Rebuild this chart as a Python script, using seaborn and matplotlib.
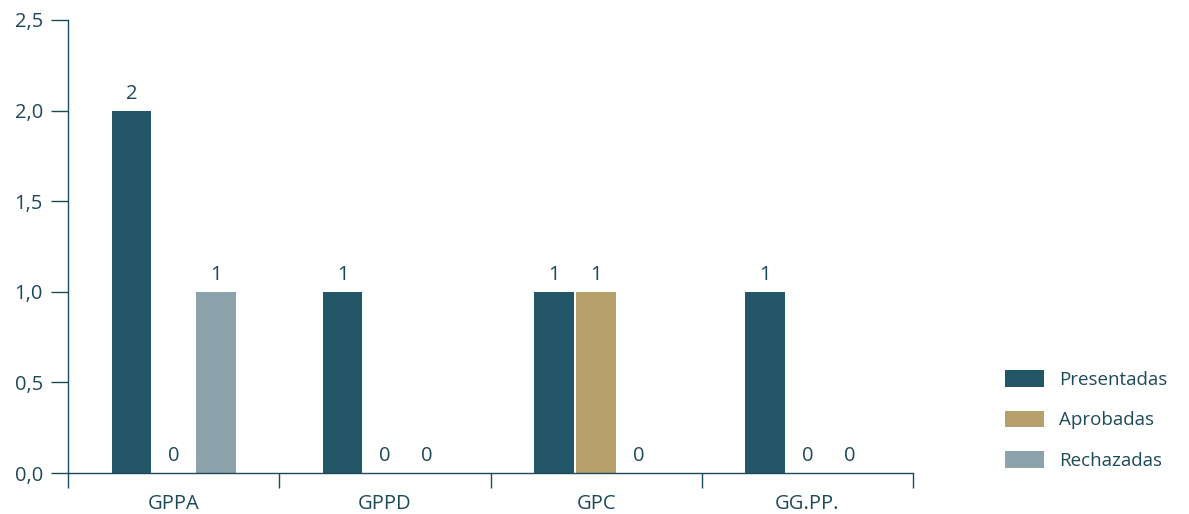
import matplotlib.pyplot as plt
import matplotlib.ticker as mticker
import seaborn as sns
import pandas as pd

# data
grupos = ["GPPA", "GPPD", "GPC", "GG.PP."]
series = ["Presentadas", "Aprobadas", "Rechazadas"]
presentadas = [2, 1, 1, 1]
aprobadas = [0, 0, 1, 0]
rechazadas = [1, 0, 0, 0]
colores = ["#235667", "#b59f6a", "#8ca3ab"]
TXT = "#1d4a5a"

df = pd.DataFrame({
    "grupo": grupos * 3,
    "serie": [s for s in series for _ in grupos],
    "valor": presentadas + aprobadas + rechazadas,
})

sns.set_style("white")
plt.rcParams["font.family"] = ["Open Sans", "DejaVu Sans"]
plt.rcParams["text.color"] = TXT

fig = plt.figure(figsize=(11.89, 5.14), dpi=100)
ax = fig.add_axes([68 / 1189, 41 / 514, (913 - 68) / 1189, 453 / 514])

sns.barplot(data=df, x="grupo", y="valor", hue="serie", order=grupos,
            hue_order=series, palette=colores, width=0.6, gap=0.07,
            saturation=1, linewidth=0, ax=ax)

for cont in ax.containers:
    ax.bar_label(cont, fmt="%d", padding=5, fontsize=14.5, color=TXT)

ax.set_xlim(-0.5, 3.5)
ax.set_ylim(0, 2.5)
ax.set_yticks([0, 0.5, 1.0, 1.5, 2.0, 2.5])
ax.yaxis.set_major_formatter(mticker.FuncFormatter(lambda v, p: f"{v:.1f}".replace(".", ",")))
ax.set_xticks(range(len(grupos)))
ax.set_xticks([-0.5, 0.5, 1.5, 2.5, 3.5], minor=True)
ax.tick_params(axis="x", which="major", length=0, labelsize=14.5, labelcolor=TXT, pad=15)
ax.tick_params(axis="x", which="minor", bottom=True, length=11, width=1, color=TXT,
               direction="out")
ax.tick_params(axis="y", length=12, width=1, color=TXT, direction="out",
               labelsize=14.5, labelcolor=TXT, pad=6, left=True)
ax.set_xlabel("")
ax.set_ylabel("")
for side in ["top", "right"]:
    ax.spines[side].set_visible(False)
for side in ["left", "bottom"]:
    ax.spines[side].set_color(TXT)
    ax.spines[side].set_linewidth(1)

handles, labels = ax.get_legend_handles_labels()
ax.legend(handles, labels, loc="center left", bbox_to_anchor=(988 / 1189, 1 - 420 / 514),
          bbox_transform=fig.transFigure, frameon=False, fontsize=13.5,
          handlelength=2.1, handleheight=1.0, labelspacing=1.15, handletextpad=0.8,
          labelcolor=TXT)

fig.savefig("out.png", dpi=100)
plt.close(fig)
